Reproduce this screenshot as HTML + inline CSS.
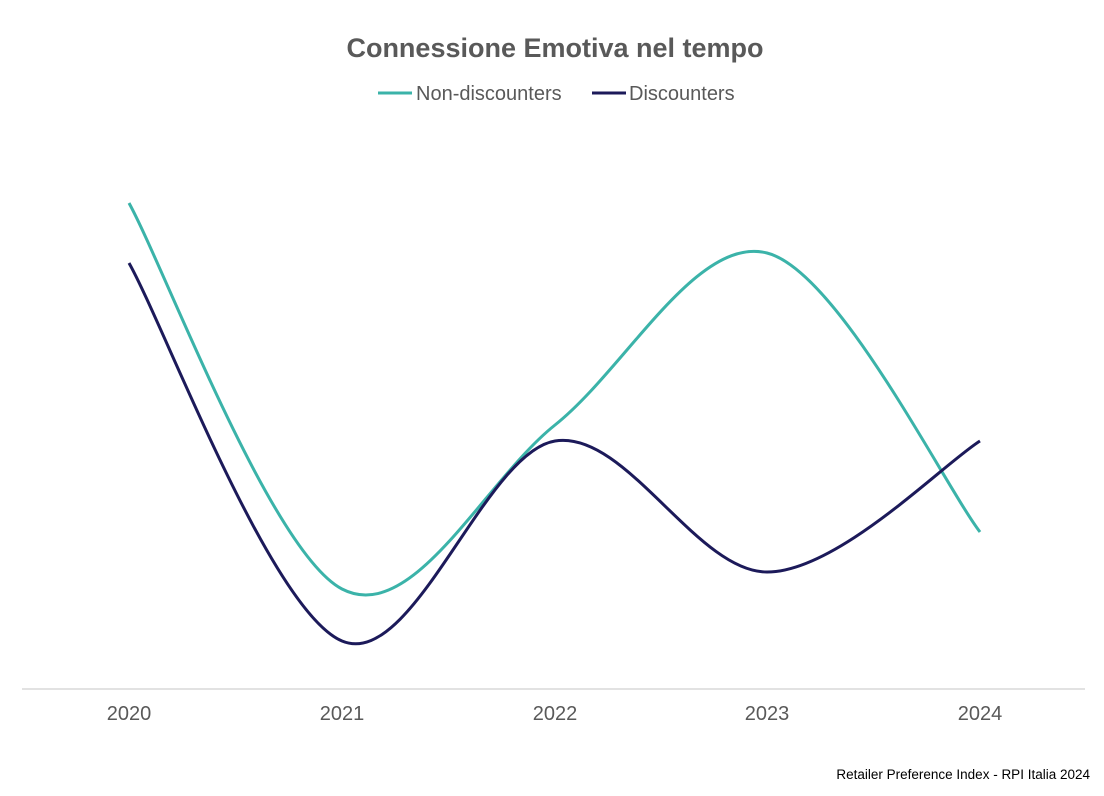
<!DOCTYPE html>
<html><head><meta charset="utf-8"><style>
html,body{margin:0;padding:0;background:#fff;}
svg{display:block;}
</style></head><body>
<svg width="1104" height="796" viewBox="0 0 1104 796" xmlns="http://www.w3.org/2000/svg" font-family="Liberation Sans, Arial, sans-serif">
<rect width="1104" height="796" fill="#fff"/>
<text x="555" y="57" text-anchor="middle" font-size="27" font-weight="bold" fill="#595959">Connessione Emotiva nel tempo</text>
<line x1="378" y1="93" x2="412" y2="93" stroke="#3bb3a9" stroke-width="3"/>
<text x="416" y="100" font-size="20" fill="#595959">Non-discounters</text>
<line x1="592" y1="93" x2="626" y2="93" stroke="#1c1a5a" stroke-width="3"/>
<text x="629" y="100" font-size="20" fill="#595959">Discounters</text>
<line x1="22" y1="689" x2="1085" y2="689" stroke="#d9d9d9" stroke-width="1.5"/>
<g font-size="20" fill="#595959" text-anchor="middle">
<text x="129" y="720">2020</text><text x="342" y="720">2021</text><text x="555" y="720">2022</text><text x="767" y="720">2023</text><text x="980" y="720">2024</text>
</g>
<path d="M129,203 C164.5,267.7 271,552 342,589 C413,626 484.2,481.3 555,425 C625.8,368.7 696.2,235.2 767,253 C837.8,270.8 944.5,485.5 980,532" fill="none" stroke="#3bb3a9" stroke-width="3"/>
<path d="M129,263 C164.5,326 271,611.3 342,641 C413,670.7 484.2,452.5 555,441 C625.8,429.5 696.2,572 767,572 C837.8,572 944.5,462.8 980,441" fill="none" stroke="#1c1a5a" stroke-width="3"/>
<text x="1090" y="779" text-anchor="end" font-size="13.5" fill="#000">Retailer Preference Index - RPI Italia 2024</text>
</svg>
</body></html>
